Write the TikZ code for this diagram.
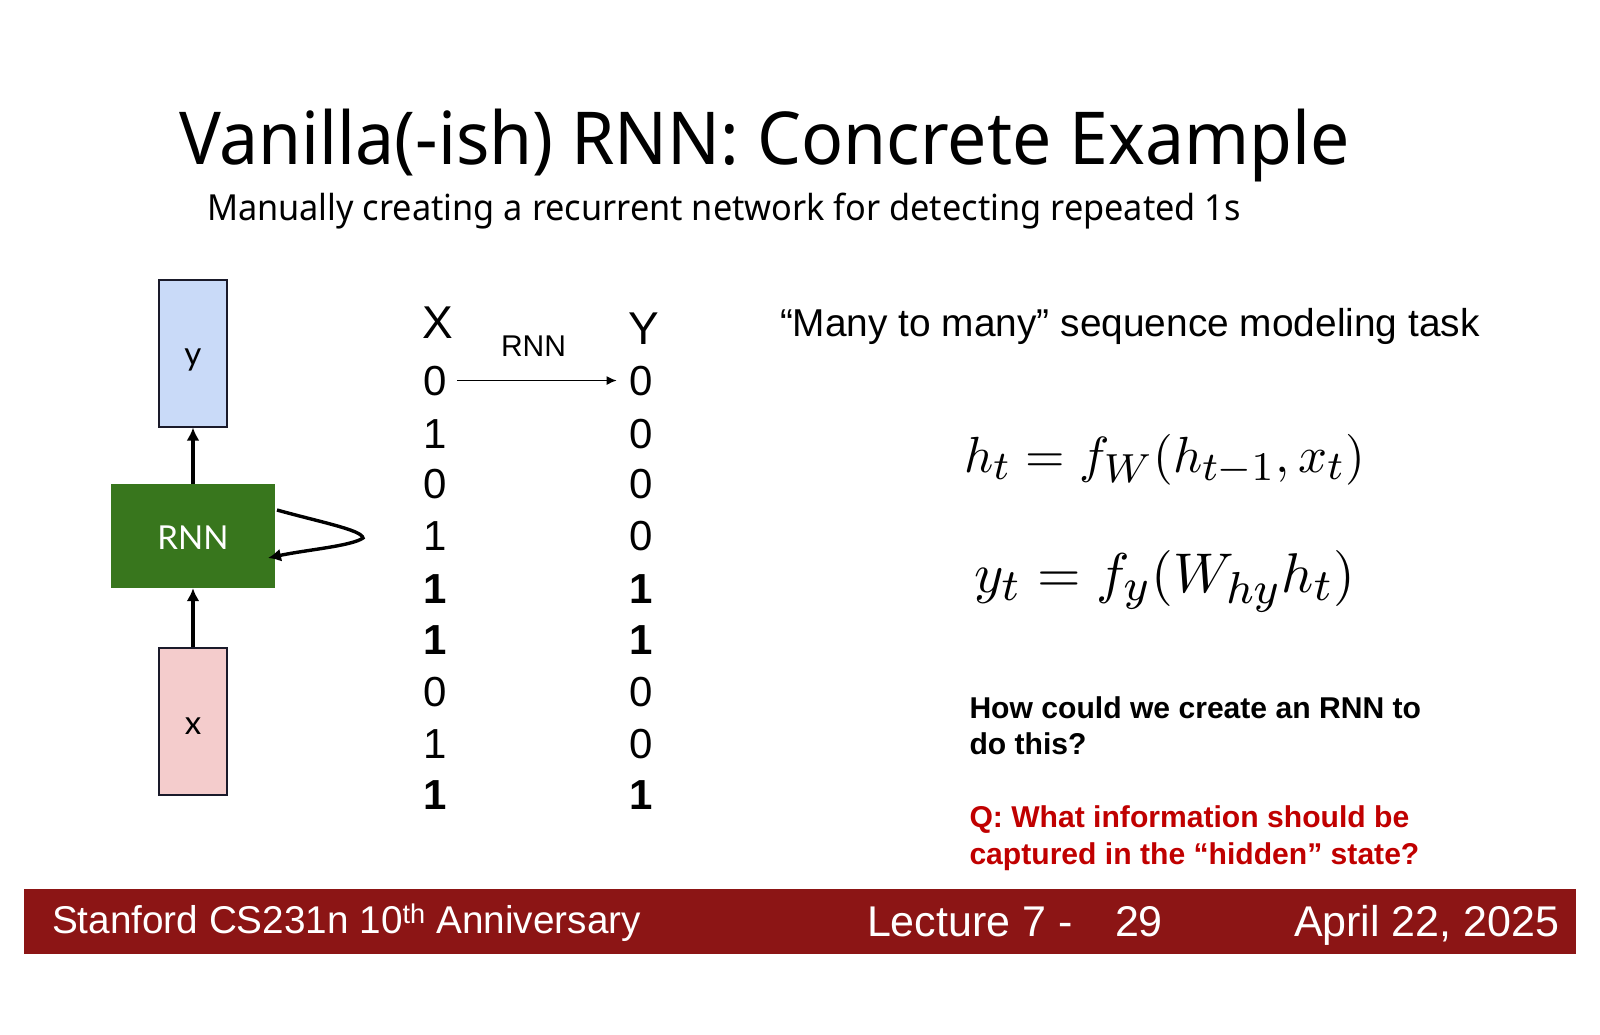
\documentclass[tikz,border=0pt]{standalone}
\usepackage{amsmath}
\usepackage{fontspec}
\setmainfont{Liberation Sans}
\newfontfamily\slidefont[Ligatures=NoCommon,FakeStretch=0.955]{Noto Sans}
\newfontfamily\boxfont[Ligatures=NoCommon]{Lato}
\DeclareMathSizes{10}{10}{8}{6}
\usepackage{tikz}
\usetikzlibrary{arrows.meta}
\definecolor{boxy}{HTML}{C9DAF8}
\definecolor{boxx}{HTML}{F4CCCC}
\definecolor{boxrnn}{HTML}{38761D}
\definecolor{barred}{HTML}{8C1515}
\definecolor{askred}{HTML}{C00000}
\definecolor{edgeblk}{HTML}{1A1A2A}
\newcommand{\fs}[1]{\fontsize{#1}{#1}\selectfont}
\tikzset{
    txt/.style={anchor=base west,inner sep=0pt,outer sep=0pt},
    digit/.style={anchor=base,inner sep=0pt,font=\fs{42}},
    eqn/.style={anchor=base west,inner sep=0pt},
    tallbox/.style={draw=edgeblk,line width=1.7pt,minimum width=67.6pt,minimum height=146.5pt,inner sep=0pt,text depth=0pt,font=\boxfont\fs{33}},
    footer/.style={txt,text=white,font=\fs{43}},
    bigarrow/.style={-{Latex[length=13pt,width=13pt]},line width=3.4pt}
}

\begin{document}
\begin{tikzpicture}[
            x=1pt,y=-1pt
        ]
            \useasboundingbox (0,0) rectangle (1600,1035);

            \node[txt,font=\slidefont\fs{73}] (title) at (179,165) {Vanilla(-ish) RNN: Concrete Example};
            \node[txt,font=\slidefont\fs{35.9}] (subtitle) at (207,220) {Manually creating a recurrent network for detecting repeated 1s};

            \node[tallbox,fill=boxy,text height=23pt] (y) at (193,353.5) {y};
            \node[tallbox,fill=boxx,text height=25pt] (x) at (193,721.5) {x};
            \node[fill=boxrnn,minimum width=164pt,minimum height=104pt,inner sep=0pt,text=white,font=\boxfont\fs{33},text height=27pt,text depth=0pt] (rnn) at (193,536) {RNN};

            \draw [bigarrow] (rnn.north) -- (y.south);
            \draw [bigarrow] (x.north) -- (rnn.south);

            \coordinate (loopout) at (277,510);
            \coordinate (looptip) at (363,538);
            \coordinate (loopin) at (268,558);
            \draw [bigarrow] (loopout) .. controls (320,522) and (362,530) .. (looptip) .. controls (352,546) and (305,550) .. (loopin);

            \node[digit,font=\fs{46}] (xhead) at (438,338) {X};
            \node[digit,font=\fs{46}] (yhead) at (644,344) {Y};
            \foreach \i/\vx/\vy/\base in {1/0/0/395,2/1/0/448,3/0/0/498,4/1/0/550,5/\textbf{1}/\textbf{1}/603,6/\textbf{1}/\textbf{1}/654,7/0/0/706,8/1/0/758,9/\textbf{1}/\textbf{1}/809} {
                \node[digit] (x\i) at (435,\base) {\vx};
                \node[digit] (y\i) at (641,\base) {\vy};
            }
            \coordinate (arrowstart) at ([xshift=10pt]x1.east);
            \draw [-{Latex[length=10pt,width=9pt]},line width=1.3pt] (arrowstart) -- ([xshift=-12.5pt]y1.west);
            \node[anchor=base,inner sep=0pt,font=\fs{30}] (rnnlabel) at (533.5,356) {RNN};

            \node[txt,font=\fs{38.85}] (task) at (780,336) {“Many to many” sequence modeling task};

            \node[eqn,scale=5.08] (hidden) at (963,472) {$h_t = f_W(h_{t-1},x_t)$};
            \node[eqn,scale=5.6] (output) at (973,592) {$y_t = f_y(W_{hy}h_t)$};

            \node[txt,font=\bfseries\fs{30.1}] (how1) at (969.5,718.5) {How could we create an RNN to};
            \node[txt,font=\bfseries\fs{30.1}] (how2) at (969.5,754.5) {do this?};
            \node[txt,text=askred,font=\bfseries\fs{30.1}] (ask1) at (969.5,827) {Q: What information should be};
            \node[txt,text=askred,font=\bfseries\fs{30.1}] (ask2) at (969.5,864) {captured in the “hidden” state?};

            \fill[barred] (24,889) rectangle (1576,954);
            \node[footer,font=\fs{38.7}] (course) at (52,933) {Stanford CS231n 10\textsuperscript{th} Anniversary};
            \node[footer] (lecture) at (867,936) {Lecture 7 -};
            \node[footer] (page) at (1115,936) {29};
            \node[footer] (date) at (1294,936) {April 22, 2025};
        \end{tikzpicture}
\end{document}
